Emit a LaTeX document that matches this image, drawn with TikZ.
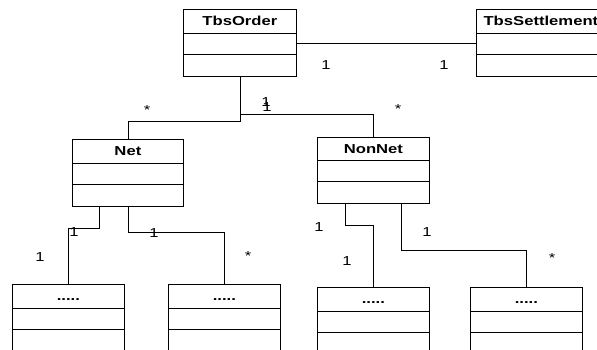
\documentclass[tikz,border=0pt]{standalone}
\usepackage{fontspec}
\setmainfont{Liberation Sans}
\usetikzlibrary{calc}
\tikzset{
  cls/.style={draw, line width=0.8pt, inner sep=0pt, anchor=north west},
  ttl/.style={font=\fontsize{13}{13}\selectfont\bfseries, inner sep=0pt, anchor=base},
  mult/.style={font=\fontsize{13}{13}\selectfont, inner sep=0pt},
  conn/.style={line width=0.8pt},
}
\newcommand{\stretchtxt}[1]{\scalebox{1.28}[1]{#1}}
% name, x, y, w, h, d1, d2, title
\newcommand{\umlcls}[8]{%
  \node[cls, minimum width=#4pt, minimum height=#5pt] (#1) at (#2,#3) {};
  \draw[conn] ($(#1.north west)+(0,#6)$) -- ($(#1.north east)+(0,#6)$);
  \draw[conn] ($(#1.north west)+(0,#7)$) -- ($(#1.north east)+(0,#7)$);
  \node[ttl] (#1-t) at ($(#1.north)+(0,#6/2+4.7)$) {\stretchtxt{#8}};
}
\begin{document}
\begin{tikzpicture}[x=1pt,y=-1pt]
\useasboundingbox (0,0) rectangle (597,349);
\clip (0,0) rectangle (597,349);
\umlcls{tbo}{183}{9}{113}{67}{24}{45}{TbsOrder}
\umlcls{tbs}{476}{9}{129}{67}{24}{45}{TbsSettlement}
\umlcls{net}{72}{139}{111}{67}{24}{45}{Net}
\umlcls{nn}{317}{137}{112}{66}{23}{44}{NonNet}
\umlcls{c1}{12}{284}{112}{70}{24}{45}{.....}
\umlcls{c2}{168}{284}{112}{70}{24}{45}{.....}
\umlcls{c3}{317}{287}{112}{70}{24}{45}{.....}
\umlcls{c4}{470}{287}{112}{70}{24}{45}{.....}
% connectors
\draw[conn] (tbo.east) -- (tbs.west);
\draw[conn] (tbo.south) -- ++(0,45) -| (net.north);
\draw[conn] ($(tbo.south)+(0,38)$) -| (nn.north);
\draw[conn] ($(net.south)+(-28.5,0)$) -- ++(0,22) -| (c1.north);
\draw[conn] (net.south) -- ++(0,26) -| (c2.north);
\draw[conn] ($(nn.south)+(-28,0)$) -- ++(0,22) -| (c3.north);
\draw[conn] ($(nn.south)+(28,0)$) -- ++(0,47) -| (c4.north);
% multiplicities
\node[mult] (m1) at (326,65) {\stretchtxt{1}};
\node[mult] (m2) at (444,65) {\stretchtxt{1}};
\node[mult] (m3) at (147,110) {\stretchtxt{*}};
\node[mult] (m4) at (266,102) {\stretchtxt{1}};
\node[mult] (m5) at (267,107) {\stretchtxt{1}};
\node[mult] (m6) at (398,109) {\stretchtxt{*}};
\node[mult] (m7) at (74,232) {\stretchtxt{1}};
\node[mult] (m8) at (40,257) {\stretchtxt{1}};
\node[mult] (m9) at (154,233) {\stretchtxt{1}};
\node[mult] (m10) at (248,256) {\stretchtxt{*}};
\node[mult] (m11) at (319,227) {\stretchtxt{1}};
\node[mult] (m12) at (347,261) {\stretchtxt{1}};
\node[mult] (m13) at (427,232) {\stretchtxt{1}};
\node[mult] (m14) at (552,258) {\stretchtxt{*}};
\end{tikzpicture}
\end{document}
